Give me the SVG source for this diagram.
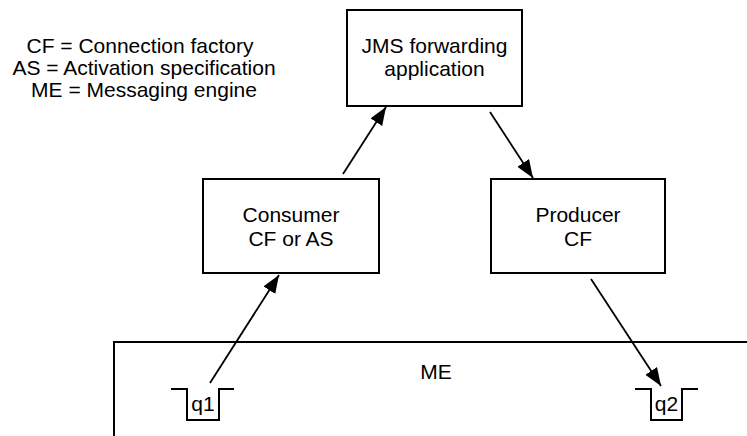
<svg xmlns="http://www.w3.org/2000/svg" width="747" height="436" viewBox="0 0 747 436">
<style>
.box{fill:#fff;stroke:#000;stroke-width:2}
.t{font-family:"Liberation Sans",Arial,sans-serif;font-size:21px;fill:#000;text-anchor:middle}
.c{stroke:#000;stroke-width:1.8;fill:none;marker-end:url(#ah)}
.q{fill:none;stroke:#000;stroke-width:2}
</style>
<defs>
<marker id="ah" markerUnits="userSpaceOnUse" markerWidth="19" markerHeight="15" refX="18" refY="7" orient="auto">
<path d="M0,0 L18,7 L0,14 z" fill="#000"/>
</marker>
</defs>
<rect width="747" height="436" fill="#fff"/>
<g id="legend">
<text class="t" x="140" y="53">CF = Connection factory</text>
<text class="t" x="144" y="75">AS = Activation specification</text>
<text class="t" x="144" y="97">ME = Messaging engine</text>
</g>
<g id="me">
<path class="q" d="M747,342 H114 V436"/>
<text class="t" x="436" y="379">ME</text>
</g>
<g id="q1">
<path class="q" d="M171,389 H187 V420 H219 V389 H234"/>
<text class="t" x="203" y="411">q1</text>
</g>
<g id="q2">
<path class="q" d="M635,389 H651 V420 H682 V389 H698"/>
<text class="t" x="666.5" y="411">q2</text>
</g>
<g id="jms">
<rect class="box" x="347" y="10" width="175" height="96"/>
<text class="t" x="434.5" y="53">JMS forwarding</text>
<text class="t" x="434.5" y="76">application</text>
</g>
<g id="consumer">
<rect class="box" x="203" y="179" width="176" height="94"/>
<text class="t" x="291" y="222">Consumer</text>
<text class="t" x="291" y="246">CF or AS</text>
</g>
<g id="producer">
<rect class="box" x="491" y="179" width="174" height="94"/>
<text class="t" x="578" y="222">Producer</text>
<text class="t" x="578" y="246">CF</text>
</g>
<g id="connectors">
<line class="c" x1="210" y1="383" x2="279" y2="275"/>
<line class="c" x1="343" y1="174" x2="386" y2="107"/>
<line class="c" x1="490" y1="112" x2="533" y2="178"/>
<line class="c" x1="591" y1="279" x2="661" y2="386"/>
</g>
</svg>
